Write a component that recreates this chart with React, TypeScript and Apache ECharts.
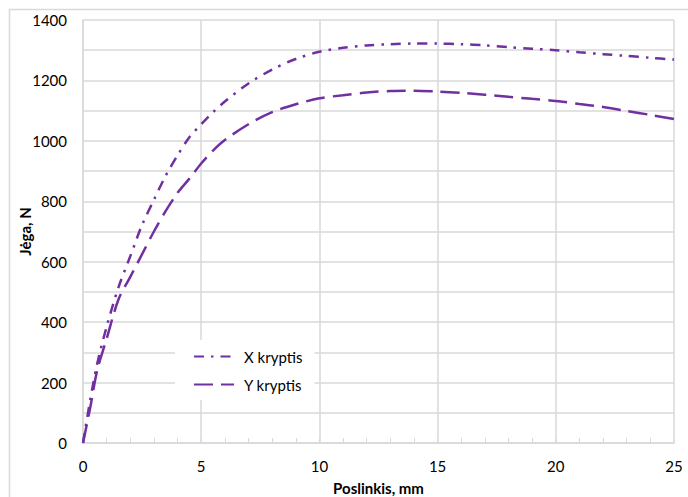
import React, { useEffect, useRef } from "react";
import * as echarts from "echarts";

const displacement = [0, 0.3, 0.6, 1, 1.5, 2, 2.5, 3, 3.5, 4, 4.5, 5, 5.5, 6, 7, 8, 9, 10, 11, 12, 13, 14, 15, 16, 17, 18, 19, 20, 21, 22, 23, 24, 25];
const xKryptis = [0, 140, 262, 385, 515, 618, 722, 805, 885, 952, 1012, 1055, 1095, 1130, 1190, 1236, 1271, 1295, 1308, 1316, 1320, 1322, 1322, 1320, 1316, 1310, 1305, 1300, 1293, 1287, 1281, 1275, 1269];
const yKryptis = [0, 115, 240, 345, 475, 550, 625, 700, 768, 828, 875, 925, 968, 1003, 1055, 1095, 1121, 1141, 1151, 1160, 1165, 1166, 1163, 1159, 1153, 1146, 1139, 1132, 1122, 1112, 1099, 1086, 1072];
const seriesNames = ["X kryptis", "Y kryptis"];
const xAxisTitle = "Poslinkis, mm";
const yAxisTitle = "Jėga, N";

const FONT = "Lato, 'Open Sans', sans-serif";
const PURPLE = "#7030A0";
const GRID = "#d9d9d9";

export default function App() {
  const ref = useRef<HTMLDivElement>(null);
  useEffect(() => {
    if (!ref.current) return;
    const chart = echarts.init(ref.current, null, { renderer: "svg" });
    const pair = (ys: number[]) => displacement.map((x, i) => [x, ys[i]]);
    chart.setOption({
      animation: false,
      backgroundColor: "#fff",
      textStyle: { fontFamily: FONT },
      grid: { left: 83, right: 14, top: 20, bottom: 54, containLabel: false, outerBoundsMode: "none" },
      graphic: [
        {
          type: "rect",
          z: -10,
          shape: { x: 9.5, y: 9.5, width: 700, height: 500 },
          style: { fill: "none", stroke: GRID, lineWidth: 1.5 },
          silent: true,
        },
      ],
      legend: {
        orient: "vertical",
        left: 175,
        top: 340,
        padding: [9, 12, 8, 18],
        backgroundColor: "#fff",
        itemWidth: 40,
        itemHeight: 14,
        itemGap: 13,
        data: seriesNames,
        itemStyle: { opacity: 0 },
        textStyle: { fontFamily: FONT, fontSize: 15, color: "#000", padding: [0, 0, 0, 5] },
      },
      xAxis: {
        type: "value",
        min: 0,
        max: 25,
        interval: 5,
        name: xAxisTitle,
        nameLocation: "middle",
        nameGap: 37,
        nameMoveOverlap: false,
        nameTextStyle: { fontFamily: FONT, fontSize: 15, fontWeight: "bold", color: "#000" },
        axisLine: { show: true, lineStyle: { color: GRID, width: 1.5 } },
        axisTick: { show: true, inside: true, length: 5, lineStyle: { color: GRID } },
        minorTick: { show: true, splitNumber: 5, length: 5, lineStyle: { color: GRID } },
        axisLabel: { fontFamily: FONT, fontSize: 15, color: "#000", margin: 15 },
        splitLine: { show: true, lineStyle: { color: GRID, width: 1.5 } },
      },
      yAxis: {
        type: "value",
        min: 0,
        max: 1400,
        interval: 200,
        name: yAxisTitle,
        nameLocation: "middle",
        nameGap: 51,
        nameRotate: 90,
        nameMoveOverlap: false,
        nameTextStyle: { fontFamily: FONT, fontSize: 15, fontWeight: "bold", color: "#000" },
        axisLine: { show: true, lineStyle: { color: GRID, width: 1.5 } },
        axisTick: { show: false },
        minorTick: { show: false, splitNumber: 2 },
        minorSplitLine: { show: true, lineStyle: { color: GRID, width: 1.5 } },
        axisLabel: { fontFamily: FONT, fontSize: 15, color: "#000", margin: 16, formatter: (v: number) => String(v) },
        splitLine: { show: true, lineStyle: { color: GRID, width: 1.5 } },
      },
      series: [
        {
          name: seriesNames[0],
          type: "line",
          data: pair(xKryptis),
          smooth: 0.3,
          showSymbol: false,
          symbol: "none",
          lineStyle: { color: PURPLE, width: 2.5, type: [10, 7, 2.5, 7] },
          itemStyle: { color: PURPLE },
        },
        {
          name: seriesNames[1],
          type: "line",
          data: pair(yKryptis),
          smooth: 0.3,
          showSymbol: false,
          symbol: "none",
          lineStyle: { color: PURPLE, width: 2.5, type: [19, 8] },
          itemStyle: { color: PURPLE },
        },
      ],
    });
    return () => chart.dispose();
  }, []);
  return (
    <div
      ref={ref}
      style={{ position: "fixed", left: 0, top: 0, width: 688, height: 497, background: "#fff" }}
    />
  );
}
